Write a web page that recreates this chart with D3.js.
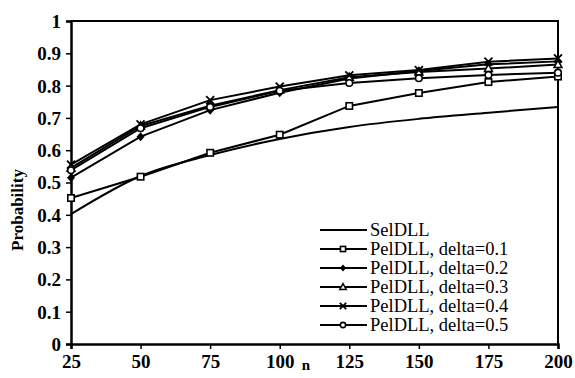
<!DOCTYPE html>
<html>
<head>
<meta charset="utf-8">
<script src="https://cdn.jsdelivr.net/npm/d3@7"></script>
<style>
  html, body { margin: 0; padding: 0; background: #fff; }
  svg { display: block; }
</style>
</head>
<body>
<svg id="chart" width="575" height="378"></svg>
<script>
// Sample sizes on the x axis
const nValues = [25, 50, 75, 100, 125, 150, 175, 200];
const xTicks = [25, 50, 75, 100, 125, 150, 175, 200];
const yTicks = [0, 0.1, 0.2, 0.3, 0.4, 0.5, 0.6, 0.7, 0.8, 0.9, 1];
const yTickLabels = ["0", "0.1", "0.2", "0.3", "0.4", "0.5", "0.6", "0.7", "0.8", "0.9", "1"];

// Probability per method
const selDLL   = [0.402, 0.52, 0.585, 0.635, 0.672, 0.697, 0.716, 0.734];
const pelD01   = [0.452, 0.518, 0.592, 0.648, 0.737, 0.777, 0.811, 0.828];
const pelD02   = [0.515, 0.642, 0.724, 0.778, 0.822, 0.845, 0.866, 0.875];
const pelD03   = [0.545, 0.675, 0.738, 0.786, 0.826, 0.842, 0.853, 0.865];
const pelD04   = [0.555, 0.68, 0.755, 0.797, 0.832, 0.848, 0.874, 0.884];
const pelD05   = [0.538, 0.668, 0.734, 0.784, 0.808, 0.823, 0.833, 0.84];

const seriesNames = ["SelDLL", "PelDLL, delta=0.1", "PelDLL, delta=0.2",
                     "PelDLL, delta=0.3", "PelDLL, delta=0.4", "PelDLL, delta=0.5"];
const seriesValues = [selDLL, pelD01, pelD02, pelD03, pelD04, pelD05];
const seriesMarkers = ["none", "square", "diamond", "triangle", "cross", "circle"];

const SERIF = "'Liberation Serif', 'Times New Roman', 'DejaVu Serif', serif";

const svg = d3.select("#chart");
const plotLeft = 71, plotRight = 558, plotTop = 21, plotBottom = 344;

const x = d3.scaleLinear().domain([25, 200]).range([plotLeft, plotRight]);
const y = d3.scaleLinear().domain([0, 1]).range([plotBottom, plotTop]);

// Frame: top and right edges
svg.append("path")
  .attr("d", `M${plotLeft},${plotTop}H${plotRight}V${plotBottom}`)
  .attr("fill", "none").attr("stroke", "#000").attr("stroke-width", 2);

// Axes
const yAxis = d3.axisLeft(y).tickValues(yTicks)
  .tickFormat((d, i) => yTickLabels[i]).tickSize(5).tickPadding(5);
const gy = svg.append("g").attr("transform", `translate(${plotLeft},0)`).call(yAxis);
gy.select(".domain").attr("stroke-width", 2.5);
gy.selectAll(".tick line").attr("stroke-width", 1.5);
gy.selectAll(".tick text").attr("dy", "0.34em");

const xAxis = d3.axisBottom(x).tickValues(xTicks).tickFormat(d3.format("d"))
  .tickSize(5).tickPadding(6);
const gx = svg.append("g").attr("transform", `translate(0,${plotBottom})`).call(xAxis);
gx.select(".domain").attr("stroke-width", 2.5);
gx.selectAll(".tick line").attr("stroke-width", 1.5);

[gx, gy].forEach(g => {
  g.attr("font-family", SERIF).attr("font-size", 19).attr("font-weight", "bold");
  g.select(".domain").attr("stroke", "#000");
  g.selectAll(".tick line").attr("stroke", "#000");
  g.selectAll(".tick text").attr("fill", "#000")
    .style("font-family", SERIF).style("font-size", "19px").style("font-weight", "bold");
});

// Axis titles
svg.append("text").attr("x", 306).attr("y", 370)
  .attr("text-anchor", "middle")
  .style("font-family", SERIF).style("font-weight", "bold").style("font-size", "15px")
  .text("n");
svg.append("text")
  .attr("transform", "translate(23,210) rotate(-90)")
  .attr("text-anchor", "middle")
  .style("font-family", SERIF).style("font-weight", "bold").style("font-size", "17px")
  .text("Probability");

// Marker drawing
function drawMarker(g, type, cx, cy, sc) {
  const s = 3.2 * sc;
  if (type === "square") {
    g.append("rect").attr("x", cx - s).attr("y", cy - s).attr("width", 2 * s).attr("height", 2 * s)
      .attr("fill", "#fff").attr("stroke", "#000").attr("stroke-width", 1.6);
  } else if (type === "diamond") {
    g.append("path").attr("d", `M${cx},${cy - 4.5 * sc}L${cx + 4 * sc},${cy}L${cx},${cy + 4.5 * sc}L${cx - 4 * sc},${cy}Z`)
      .attr("fill", "#000");
  } else if (type === "triangle") {
    g.append("path").attr("d", `M${cx},${cy - 4.2 * sc}L${cx + 4 * sc},${cy + 3 * sc}L${cx - 4 * sc},${cy + 3 * sc}Z`)
      .attr("fill", "#fff").attr("stroke", "#000").attr("stroke-width", 1.5);
  } else if (type === "cross") {
    const c = 4 * sc;
    g.append("path").attr("d", `M${cx - c},${cy - c}L${cx + c},${cy + c}M${cx - c},${cy + c}L${cx + c},${cy - c}`)
      .attr("stroke", "#000").attr("stroke-width", 1.8);
  } else if (type === "circle") {
    g.append("circle").attr("cx", cx).attr("cy", cy).attr("r", 3.3 * sc)
      .attr("fill", "#fff").attr("stroke", "#000").attr("stroke-width", 1.6);
  }
}

// Lines and markers
const lineLinear = d3.line().x((d, i) => x(nValues[i])).y(d => y(d));
const lineSmooth = d3.line().x((d, i) => x(nValues[i])).y(d => y(d)).curve(d3.curveMonotoneX);

const plot = svg.append("g");
seriesValues.forEach((vals, k) => {
  plot.append("path")
    .attr("d", (k === 0 ? lineSmooth : lineLinear)(vals))
    .attr("fill", "none").attr("stroke", "#000").attr("stroke-width", 2);
});
seriesValues.forEach((vals, k) => {
  if (seriesMarkers[k] === "none") return;
  const g = plot.append("g");
  vals.forEach((v, i) => drawMarker(g, seriesMarkers[k], x(nValues[i]), y(v), 1));
});

// Legend
const legend = svg.append("g");
seriesNames.forEach((name, k) => {
  const ly = 230 + k * 19;
  legend.append("line").attr("x1", 320).attr("x2", 367).attr("y1", ly).attr("y2", ly)
    .attr("stroke", "#000").attr("stroke-width", 2);
  drawMarker(legend, seriesMarkers[k], 343, ly, 0.8);
  legend.append("text").attr("x", 370).attr("y", ly).attr("dy", "0.33em")
    .style("font-family", SERIF).style("font-size", "18.5px").style("font-weight", "normal")
    .text(name);
});
</script>
</body>
</html>
